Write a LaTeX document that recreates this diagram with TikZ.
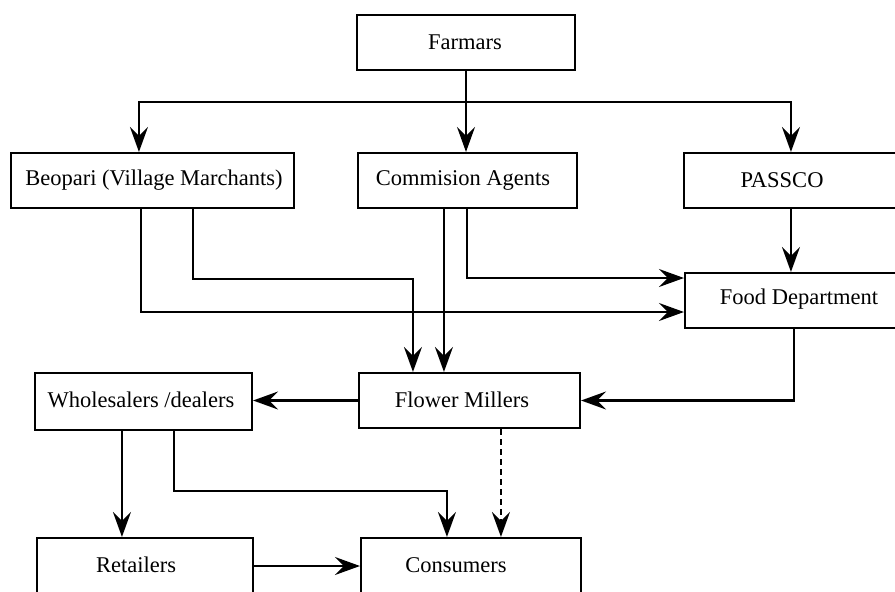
\documentclass[tikz,border=0pt]{standalone}
\usepackage{fontspec}
\setmainfont{Liberation Serif}
\usetikzlibrary{arrows.meta,calc}
\tikzset{
  box/.style={draw, line width=2.1pt, rectangle, inner sep=0pt},
  lbl/.style={inner sep=0pt, font=\fontsize{22.5}{27}\selectfont},
  arr/.style={line width=2.1pt, -{Stealth[length=25pt,width=18pt,inset=9pt]}},
  dashline/.style={dash pattern=on 6pt off 4pt}
}
\begin{document}
\begin{tikzpicture}[x=1pt,y=-1pt]
\useasboundingbox (0,0) rectangle (895,592);
\clip (0,0) rectangle (895,592);
% boxes
\node[box, minimum width=218, minimum height=55] (farm) at (466,42.5) {};
\node[box, minimum width=283, minimum height=55] (beo) at (152.5,180.5) {};
\node[box, minimum width=219, minimum height=55] (com) at (467.5,180.5) {};
\node[box, minimum width=226, minimum height=55] (pas) at (797,180.5) {};
\node[box, minimum width=228, minimum height=55] (food) at (799,300.5) {};
\node[box, minimum width=221, minimum height=55] (flow) at (469.5,400.5) {};
\node[box, minimum width=217, minimum height=57] (whole) at (143.5,401.5) {};
\node[box, minimum width=216, minimum height=56] (ret) at (145,566) {};
\node[box, minimum width=220, minimum height=56] (cons) at (471,566) {};
% labels
\node[lbl] (tfarm) at (465,42) {Farmars};
\node[lbl] (tbeo) at (154,180) {Beopari (Village Marchants)};
\node[lbl] (tcom) at (463,180) {Commision Agents};
\node[lbl] (tpas) at (782,180) {PASSCO};
\node[lbl] (tfood) at (799,299) {Food Department};
\node[lbl] (tflow) at (462,400) {Flower Millers};
\node[lbl] (twhole) at (141,400) {Wholesalers /dealers};
\node[lbl] (tret) at (136,565) {Retailers};
\node[lbl] (tcons) at (456,565) {Consumers};
% connectors
\coordinate (split) at (466,102);
\draw[arr] (farm.south) -- (farm.south |- com.north);
\draw[arr] (split) -| ([xshift=129pt]beo.north west);
\draw[arr] (split) -| ([xshift=108pt]pas.north west);
\draw[arr] ([xshift=108pt]pas.south west) -- ([xshift=108pt]pas.south west |- food.north);
\draw[arr] ([xshift=131pt]beo.south west) |- ([yshift=-11.5pt]food.west);
\draw[arr] ([xshift=183pt]beo.south west) -- ++(0,70) -| ([xshift=55pt]flow.north west);
\draw[arr] ([xshift=87pt]com.south west) -- ([xshift=87pt]com.south west |- flow.north);
\draw[arr] ([xshift=110pt]com.south west) |- ([yshift=22.5pt]food.west);
\draw[arr] ([xshift=110pt]food.south west) |- (flow.east);
\draw[arr] (flow.west) -- (flow.west -| whole.east);
\draw[arr] ([xshift=88pt]whole.south west) -- ([xshift=88pt]whole.south west |- ret.north);
\draw[arr] ([xshift=140pt]whole.south west) -- ++(0,60) -| ([xshift=87pt]cons.north west);
\draw[arr, dashline] ([xshift=143pt]flow.south west) -- ([xshift=143pt]flow.south west |- cons.north);
\draw[arr] (ret.east) -- (cons.west);
\end{tikzpicture}
\end{document}
